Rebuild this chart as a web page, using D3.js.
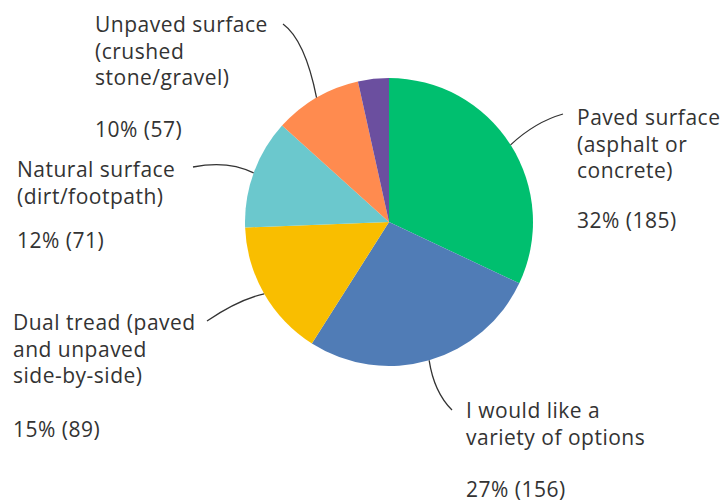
<!DOCTYPE html>
<html>
<head>
<meta charset="utf-8">
<script src="https://cdn.jsdelivr.net/npm/d3@7"></script>
<style>
  html, body { margin: 0; padding: 0; background: #fff; }
  svg { display: block; }
  text { font-family: "Open Sans", Roboto, sans-serif; fill: #333; letter-spacing: 0.5px; }
</style>
</head>
<body>
<svg id="chart" width="726" height="502"></svg>
<script>
// Preferred trail surface: answer categories, counts and shares
const categories = [
  "Paved surface (asphalt or concrete)",
  "I would like a variety of options",
  "Dual tread (paved and unpaved side-by-side)",
  "Natural surface (dirt/footpath)",
  "Unpaved surface (crushed stone/gravel)",
  "Other"
];
const counts = [185, 156, 89, 71, 57, 20];
const percentLabels = ["32%", "27%", "15%", "12%", "10%", ""];
const labelLines = [
  ["Paved surface", "(asphalt or", "concrete)"],
  ["I would like a", "variety of options"],
  ["Dual tread (paved", "and unpaved", "side-by-side)"],
  ["Natural surface", "(dirt/footpath)"],
  ["Unpaved surface", "(crushed", "stone/gravel)"],
  []
];
const colors = ["#00bf6f", "#507cb6", "#f9be00", "#6bc8cd", "#ff8b4f", "#6b4f9f"];

// Layout: pie geometry and where each callout sits
const cx = 389, cy = 222, radius = 144;
const fontSize = 21;
const lineHeight = 26.5;
const calloutLayout = [
  { x: 577, y: 125, gap: 50,   end: [563, 114], ctrl: [535, 122] },
  { x: 466, y: 418, gap: 52.5, end: [452, 410], ctrl: [434, 392] },
  { x: 13,  y: 330, gap: 54,   end: [207, 321], ctrl: [238, 300] },
  { x: 17,  y: 177, gap: 44.5, end: [193, 167], ctrl: [228, 160] },
  { x: 95,  y: 32,  gap: 52,   end: [283, 24],  ctrl: [305, 40] },
  null
];

const svg = d3.select("#chart");
const g = svg.append("g").attr("transform", `translate(${cx},${cy})`);

const pie = d3.pie().sort(null).value(d => d)(counts);
const arc = d3.arc().innerRadius(0).outerRadius(radius);

g.selectAll("path.slice")
  .data(pie)
  .join("path")
  .attr("class", "slice")
  .attr("d", arc)
  .attr("fill", (d, i) => colors[i]);

// Callouts: leader line from the slice edge to its label block
pie.forEach((d, i) => {
  const lay = calloutLayout[i];
  if (!lay) return;
  const mid = (d.startAngle + d.endAngle) / 2;
  const sx = cx + radius * Math.sin(mid);
  const sy = cy - radius * Math.cos(mid);
  const p = d3.path();
  p.moveTo(sx, sy);
  p.quadraticCurveTo(lay.ctrl[0], lay.ctrl[1], lay.end[0], lay.end[1]);
  svg.append("path")
    .attr("d", p.toString())
    .attr("fill", "none")
    .attr("stroke", "#333")
    .attr("stroke-width", 1.3);

  const t = svg.append("text")
    .attr("x", lay.x)
    .attr("y", lay.y)
    .attr("font-size", fontSize);
  labelLines[i].forEach((line, k) => {
    t.append("tspan").attr("x", lay.x).attr("y", lay.y + k * lineHeight).text(line);
  });
  const lastY = lay.y + (labelLines[i].length - 1) * lineHeight;
  svg.append("text")
    .attr("x", lay.x)
    .attr("y", lastY + lay.gap)
    .attr("font-size", fontSize)
    .text(`${percentLabels[i]} (${counts[i]})`);
});
</script>
</body>
</html>
